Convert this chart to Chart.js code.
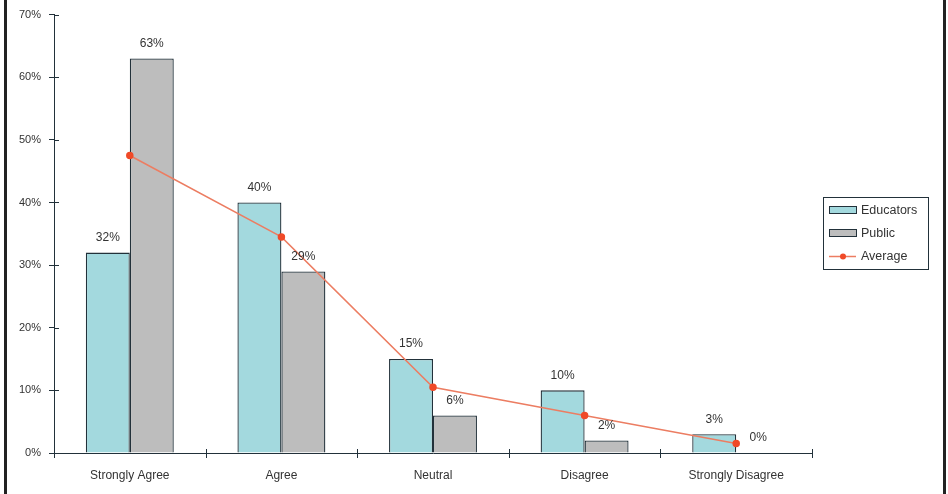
<!DOCTYPE html>
<html>
<head>
<meta charset="utf-8">
<script src="https://cdn.jsdelivr.net/npm/chart.js@4"></script>
<style>
html,body{margin:0;padding:0;background:#fff;}
canvas{display:block;}
</style>
</head>
<body>
<canvas id="c" width="948" height="494"></canvas>
<script>
const categories = ["Strongly Agree", "Agree", "Neutral", "Disagree", "Strongly Disagree"];
const educators = [32, 40, 15, 10, 3];
const publicVals = [63, 29, 6, 2, 0];
const average = [47.5, 34.5, 10.5, 6, 1.5];
const yTicks = [0, 10, 20, 30, 40, 50, 60, 70];

const FONT = "'Liberation Sans', Arial, sans-serif";
const TEXT = '#333333';
const AXIS = '#22313a';

const decorPlugin = {
  id: 'decor',
  afterDraw(chart) {
    const ctx = chart.ctx;
    const ca = chart.chartArea;
    const xs = chart.scales.x, ys = chart.scales.y;
    ctx.save();
    ctx.strokeStyle = AXIS;
    ctx.lineWidth = 1;
    ys.ticks.forEach((t) => {
      const y = Math.round(ys.getPixelForValue(t.value)) + 0.5;
      ctx.beginPath(); ctx.moveTo(ca.left, y); ctx.lineTo(ca.left + 5, y); ctx.stroke();
    });
    const n = categories.length;
    const w = (ca.right - ca.left) / n;
    for (let i = 0; i <= n; i++) {
      const x = Math.round(ca.left + i * w) + 0.5;
      ctx.beginPath(); ctx.moveTo(x, ca.bottom - 4); ctx.lineTo(x, ca.bottom + 5); ctx.stroke();
    }
    ctx.fillStyle = TEXT;
    ctx.font = '12px ' + FONT;
    ctx.textAlign = 'center';
    ctx.textBaseline = 'middle';
    [0, 1].forEach(di => {
      const meta = chart.getDatasetMeta(di);
      const data = chart.data.datasets[di].data;
      meta.data.forEach((bar, i) => {
        ctx.fillText(data[i] + '%', bar.x, bar.y - 15);
      });
    });
    const lx = 823, ly = 197, lw = 105, lh = 72;
    ctx.strokeStyle = AXIS;
    ctx.lineWidth = 1;
    ctx.strokeRect(lx + 0.5, ly + 0.5, lw, lh);
    const items = [
      {label: 'Educators', type: 'box', color: '#a3d9de'},
      {label: 'Public', type: 'box', color: '#bdbdbd'},
      {label: 'Average', type: 'line', color: '#ec7d62'}
    ];
    ctx.textAlign = 'left';
    items.forEach((it, i) => {
      const cy = 210 + i * 23;
      if (it.type === 'box') {
        ctx.fillStyle = it.color;
        ctx.fillRect(829, cy - 3, 27, 6);
        ctx.strokeStyle = AXIS;
        ctx.strokeRect(829.5, cy - 3.5, 27, 7);
      } else {
        ctx.strokeStyle = it.color;
        ctx.lineWidth = 1.5;
        ctx.beginPath(); ctx.moveTo(829, cy + 0.5); ctx.lineTo(856, cy + 0.5); ctx.stroke();
        ctx.fillStyle = '#f04a28';
        ctx.beginPath(); ctx.arc(843, cy + 0.5, 3, 0, Math.PI * 2); ctx.fill();
        ctx.lineWidth = 1;
      }
      ctx.fillStyle = TEXT;
      ctx.font = '12.5px ' + FONT;
      ctx.fillText(it.label, 861, cy + 1);
    });
    ctx.fillStyle = '#222';
    ctx.fillRect(4, 0, 3, 494);
    ctx.fillRect(943, 0, 3, 494);
    ctx.restore();
  }
};

new Chart(document.getElementById('c'), {
  data: {
    labels: categories,
    datasets: [
      {
        type: 'bar', label: 'Educators', data: educators,
        backgroundColor: '#a3d9de', borderColor: AXIS, borderWidth: 1.3,
        categoryPercentage: 0.58, barPercentage: 1.0, order: 2
      },
      {
        type: 'bar', label: 'Public', data: publicVals,
        backgroundColor: '#bdbdbd', borderColor: AXIS, borderWidth: 1.3,
        categoryPercentage: 0.58, barPercentage: 1.0, order: 2
      },
      {
        type: 'line', label: 'Average', data: average,
        borderColor: '#ec7d62', borderWidth: 1.5,
        pointBackgroundColor: '#f04a28', pointBorderColor: '#f04a28',
        pointRadius: 3, pointHoverRadius: 3, tension: 0, order: 1
      }
    ]
  },
  options: {
    responsive: false,
    animation: false,
    events: [],
    layout: { padding: { top: 13, right: 136, bottom: 0, left: 0 } },
    plugins: { legend: { display: false }, tooltip: { enabled: false } },
    scales: {
      x: {
        offset: true,
        grid: { display: false, drawOnChartArea: false },
        border: { display: true, color: AXIS, width: 1 },
        ticks: { color: TEXT, font: { family: FONT, size: 12 }, padding: 7, maxRotation: 0 },
        afterFit(s) { s.height = 41; }
      },
      y: {
        min: 0, max: 70,
        afterBuildTicks(s) { s.ticks = yTicks.map(v => ({ value: v })); },
        grid: { drawOnChartArea: false, drawTicks: true, tickLength: 5, color: AXIS },
        border: { display: true, color: AXIS, width: 1 },
        ticks: { color: TEXT, font: { family: FONT, size: 11 }, padding: 8, callback: v => v + '%' },
        afterFit(s) { s.width = 54; }
      }
    }
  },
  plugins: [decorPlugin]
});
</script>
</body>
</html>
